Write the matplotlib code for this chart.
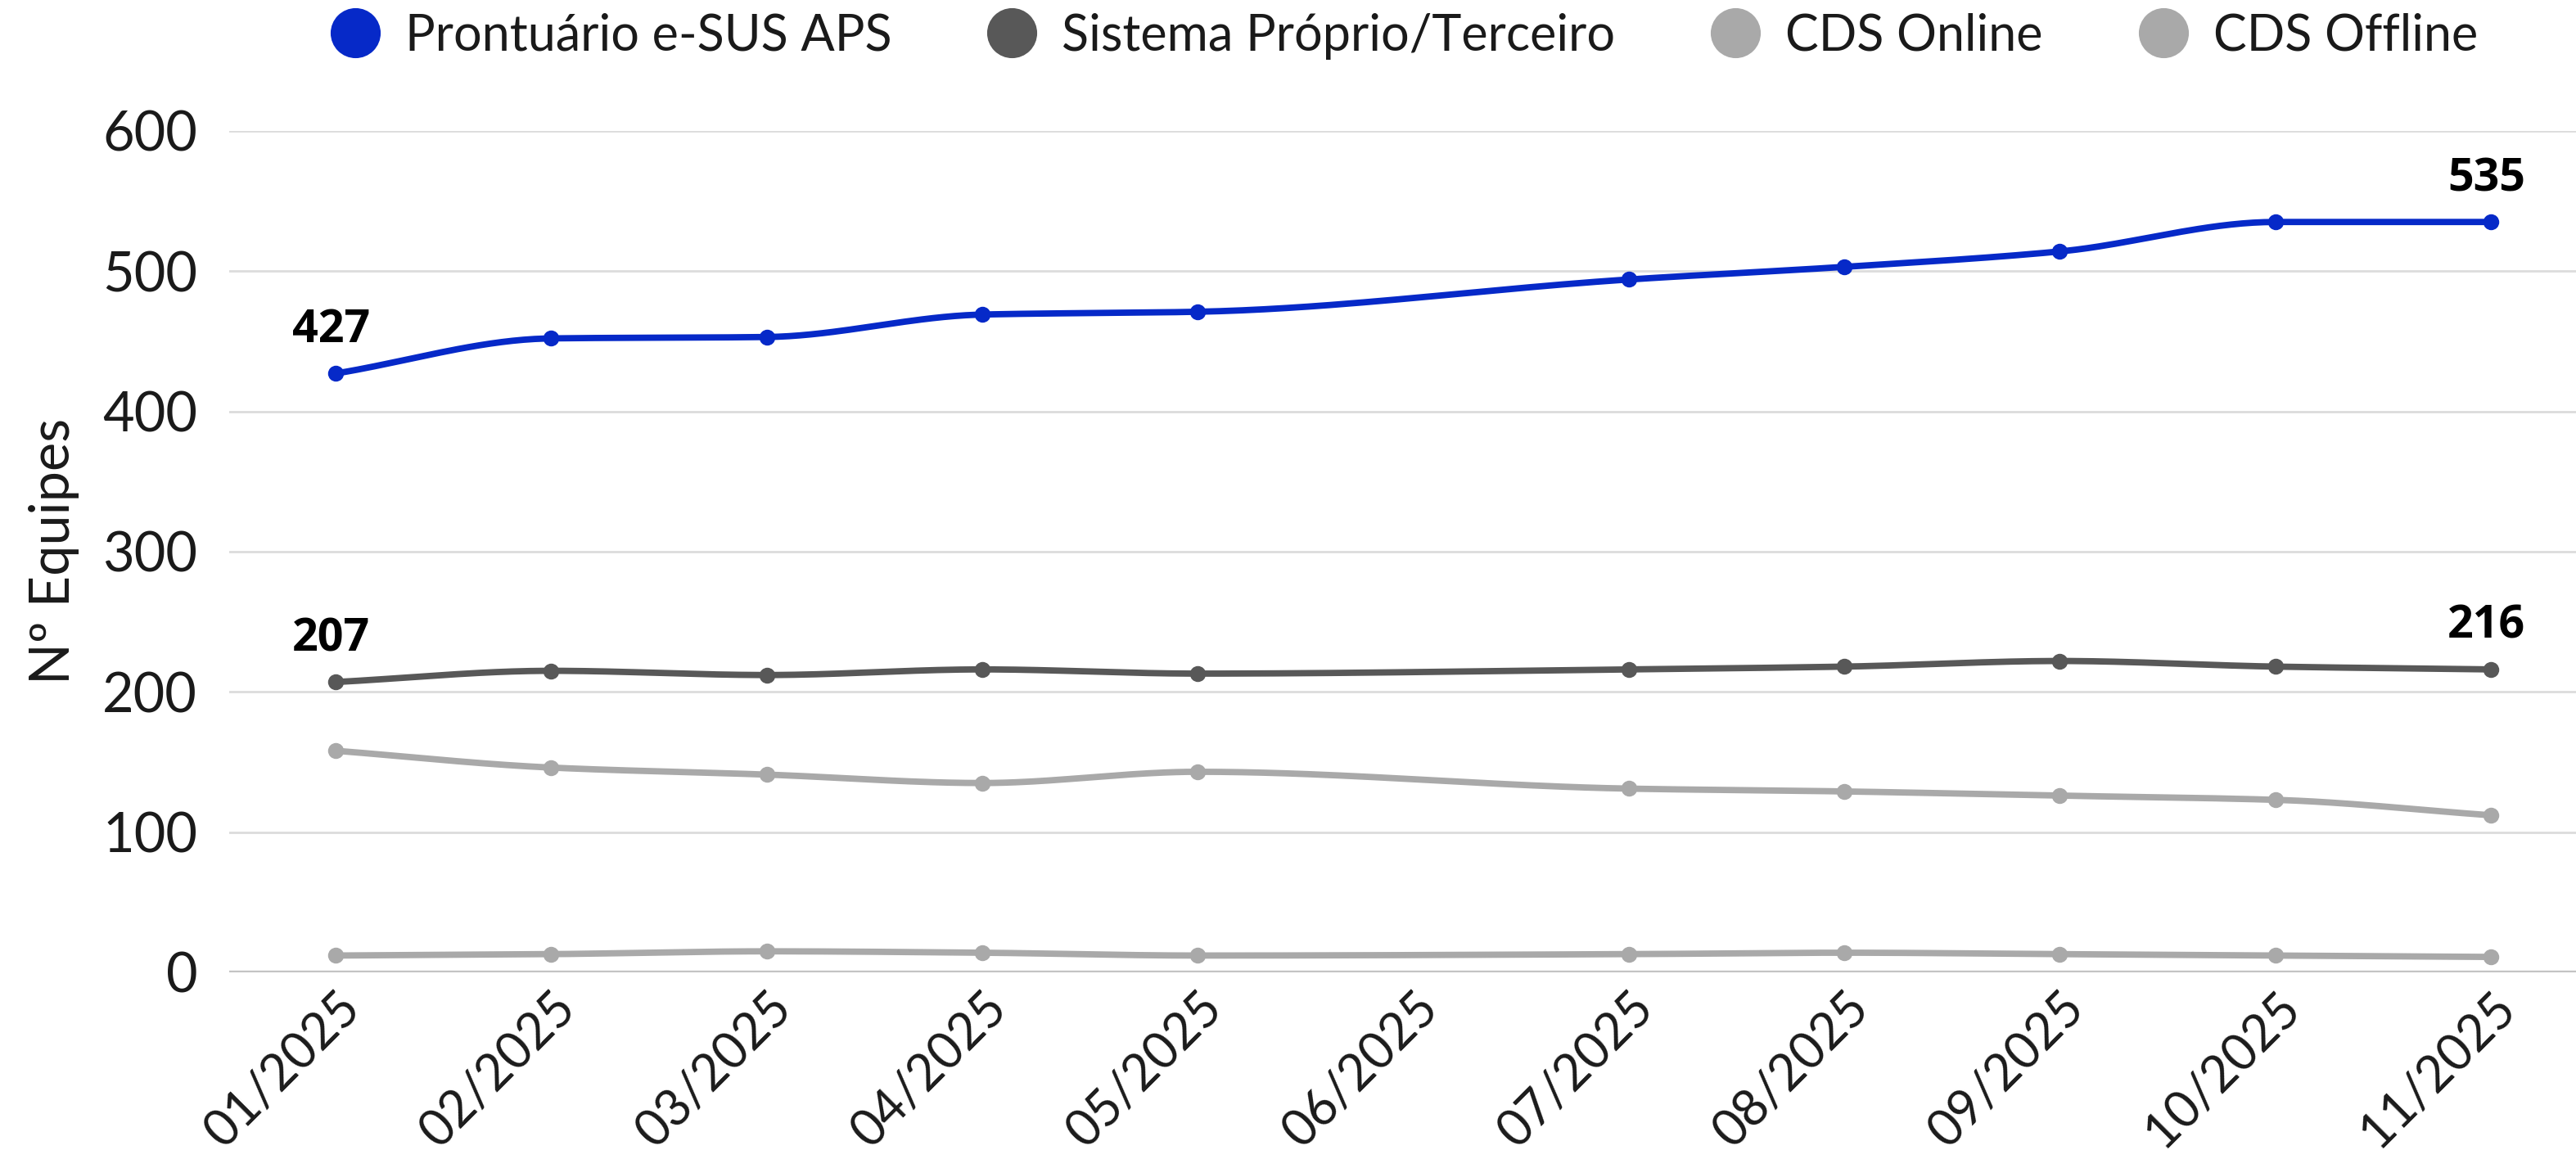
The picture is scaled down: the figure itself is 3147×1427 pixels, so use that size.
import numpy as np
import matplotlib
matplotlib.use("Agg")
import matplotlib.pyplot as plt
from matplotlib.lines import Line2D

months = ["01/2025", "02/2025", "03/2025", "04/2025", "05/2025", "06/2025",
          "07/2025", "08/2025", "09/2025", "10/2025", "11/2025"]

# 06/2025 has no data point in the source chart
prontuario = [427, 452, 453, 469, 471, np.nan, 494, 503, 514, 535, 535]
sistema = [207, 215, 212, 216, 213, np.nan, 216, 218, 222, 218, 216]
cds_online = [158, 146, 141, 135, 143, np.nan, 131, 129, 126, 123, 112]
cds_offline = [12, 13, 15, 14, 12, np.nan, 13, 14, 13, 12, 11]

series = [
    ("Prontuário e-SUS APS", prontuario, "#0629c8"),
    ("Sistema Próprio/Terceiro", sistema, "#585858"),
    ("CDS Online", cds_online, "#a9a9a9"),
    ("CDS Offline", cds_offline, "#a9a9a9"),
]


def monotone(x, y, n=40):
    # monotone cubic (Fritsch-Carlson) so the line is smooth like the original
    x = np.asarray(x, float)
    y = np.asarray(y, float)
    h = np.diff(x)
    d = np.diff(y) / h
    m = np.zeros_like(y)
    m[0], m[-1] = d[0], d[-1]
    for i in range(1, len(y) - 1):
        if d[i - 1] * d[i] <= 0:
            m[i] = 0
        else:
            w1 = 2 * h[i] + h[i - 1]
            w2 = h[i] + 2 * h[i - 1]
            m[i] = (w1 + w2) / (w1 / d[i - 1] + w2 / d[i])
    xs, ys = [], []
    for i in range(len(x) - 1):
        t = np.linspace(0, 1, n)
        h00 = 2 * t**3 - 3 * t**2 + 1
        h10 = t**3 - 2 * t**2 + t
        h01 = -2 * t**3 + 3 * t**2
        h11 = t**3 - t**2
        xs.append(x[i] + t * h[i])
        ys.append(h00 * y[i] + h10 * h[i] * m[i] + h01 * y[i + 1] + h11 * h[i] * m[i + 1])
    return np.concatenate(xs), np.concatenate(ys)


txt = "#1a1a1a"

fig = plt.figure(figsize=(15.735, 7.135), dpi=200)
ax = fig.add_axes([0.089, 0.1675, 0.911, 0.7205])

xpos = np.arange(len(months))
for name, vals, col in reversed(series):
    v = np.array(vals, float)
    ok = ~np.isnan(v)
    sx, sy = monotone(xpos[ok], v[ok])
    ax.plot(sx, sy, color=col, lw=2.8, solid_capstyle="round", zorder=3)
    ax.plot(xpos[ok], v[ok], "o", color=col, ms=6, zorder=4)

# labels on first and last point
for vals in (prontuario, sistema):
    for i in (0, len(vals) - 1):
        ax.annotate(str(int(vals[i])), (xpos[i], vals[i]), xytext=(-2, 9),
                    textcoords="offset points", ha="center", va="bottom",
                    fontsize=20, fontweight="bold", family="Open Sans",
                    color="black", zorder=5)

ax.set_xlim(-0.494, 10.395)
ax.set_ylim(0, 600)
ax.set_yticks([0, 100, 200, 300, 400, 500, 600])
ax.set_xticks(xpos)
ax.set_xticklabels(months, rotation=45, ha="right", rotation_mode="anchor")
ax.tick_params(axis="y", length=0, labelsize=24, colors=txt, pad=14)
ax.tick_params(axis="x", length=0, labelsize=22, colors=txt, pad=5)
for lab in ax.get_xticklabels() + ax.get_yticklabels():
    lab.set_family("Lato")

ax.grid(axis="y", color="#dcdcdc", lw=1.0)
ax.axhline(0, color="#c4c4c4", lw=1.6, zorder=2)
for s in ax.spines.values():
    s.set_visible(False)

ax.set_ylabel("Nº Equipes", fontsize=24, family="Lato", color=txt, labelpad=10)

handles = [Line2D([], [], ls="none", marker="o", ms=21, color=c) for _, _, c in series]
leg = fig.legend(handles, [n for n, _, _ in series], loc="center",
                 bbox_to_anchor=(0.545, 0.969), ncol=4, frameon=False,
                 prop={"family": "Lato", "size": 22},
                 handlelength=1.0, handletextpad=0.5, columnspacing=1.9)
for t in leg.get_texts():
    t.set_color(txt)

fig.savefig("out.png", dpi=200, facecolor="white")
